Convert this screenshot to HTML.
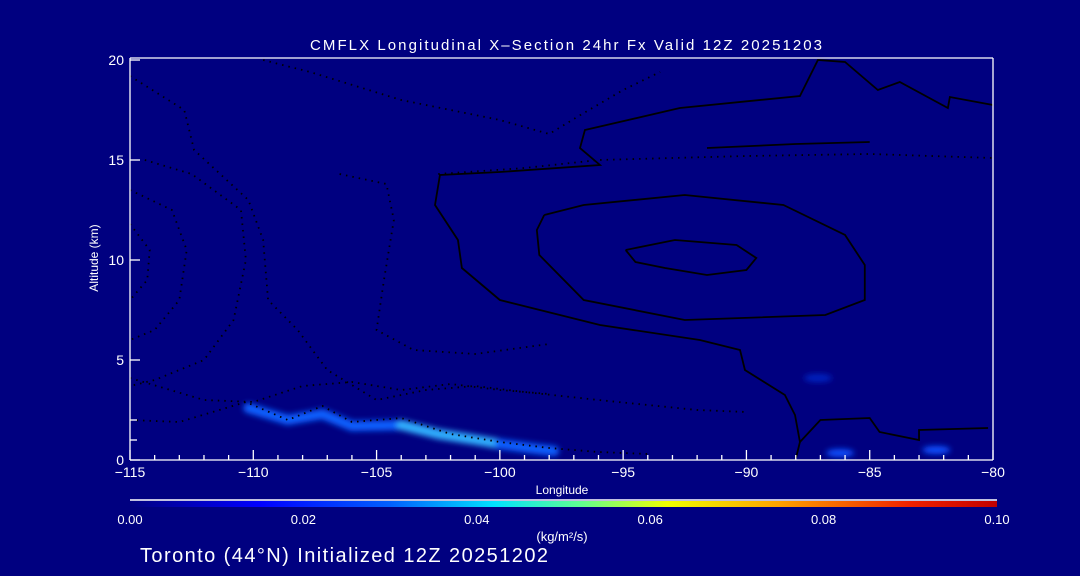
<!DOCTYPE html>
<html><head><meta charset="utf-8">
<style>
html,body{margin:0;padding:0;background:#000080;}
svg{display:block;font-family:"Liberation Sans",sans-serif;}
</style></head>
<body>
<svg id="chart" width="1080" height="576" viewBox="0 0 1080 576">
<defs>
<filter id="blur" x="-20%" y="-50%" width="140%" height="200%"><feGaussianBlur stdDeviation="2.8"/></filter>
<linearGradient id="cbar" x1="0" x2="1" y1="0" y2="0">
<stop offset="0" stop-color="#000080"/>
<stop offset="0.15" stop-color="#0000ff"/>
<stop offset="0.3" stop-color="#0060ff"/>
<stop offset="0.42" stop-color="#00e0ff"/>
<stop offset="0.52" stop-color="#60ff90"/>
<stop offset="0.62" stop-color="#f0ff00"/>
<stop offset="0.75" stop-color="#ffa000"/>
<stop offset="0.9" stop-color="#f02000"/>
<stop offset="1" stop-color="#c00000"/>
</linearGradient>
</defs>
<text x="310" y="50" fill="#fff" font-size="15" textLength="512" lengthAdjust="spacing">CMFLX Longitudinal X–Section 24hr  Fx Valid 12Z 20251203</text>
<g id="flux" filter="url(#blur)"></g>
<g id="contours"></g>
<g id="axes"></g>
<text x="98" y="258" fill="#fff" font-size="12" text-anchor="middle" transform="rotate(-90 98 258)">Altitude (km)</text>
<text x="562" y="494" fill="#fff" font-size="12" text-anchor="middle">Longitude</text>
<line x1="130" y1="500" x2="997" y2="500" stroke="#fff" stroke-width="1.5"/>
<rect x="130" y="501" width="867" height="6" fill="url(#cbar)"/>
<g id="cbticks"></g>
<text x="562" y="541" fill="#fff" font-size="13" text-anchor="middle">(kg/m²/s)</text>
<text x="140" y="562" fill="#fff" font-size="20" textLength="408" lengthAdjust="spacing">Toronto (44°N) Initialized 12Z 20251202</text>
</svg>
<script>
const xTicks=[-115,-110,-105,-100,-95,-90,-85,-80];
const yTicks=[0,5,10,15,20];
const cbTicks=[0.00,0.02,0.04,0.06,0.08,0.10];
const contourZero=[[-80,17.75],[-81.75,18.15],[-81.83,17.6],[-83.78,18.9],[-84.67,18.5],[-86,19.9],[-87.1,20],[-87.83,18.2],[-92.7,17.6],[-96.55,16.5],[-96.75,15.6],[-95.94,14.75],[-100,14.4],[-102.43,14.25],[-102.63,12.75],[-101.7,11],[-101.54,9.6],[-100,8],[-95.94,6.75],[-91.89,6],[-90.26,5.5],[-90.06,4.5],[-88.44,3.25],[-88.03,2.25],[-87.83,0.9],[-87.99,0.1]];
const contourTen=[[-98.2,12.25],[-96.6,12.75],[-92.5,13.25],[-88.5,12.75],[-86,11.25],[-85.2,9.75],[-85.2,8],[-86.8,7.25],[-92.5,7],[-96.6,8],[-98.4,10.25],[-98.5,11.5],[-98.2,12.25]];
const contourTwenty=[[-94.9,10.5],[-92.9,11],[-90.4,10.75],[-89.6,10.1],[-90,9.5],[-91.6,9.25],[-93.3,9.6],[-94.5,9.9],[-94.9,10.5]];
const contourLowRight=[[-87.83,0.9],[-87,2],[-85,2.1],[-84.6,1.4],[-83,1],[-83,1.5],[-80.2,1.6]];
const contourTopRight=[[-91.6,15.6],[-88,15.8],[-85,15.9]];
const dotTop=[[-109.6,20],[-107.7,19.4],[-104,18],[-100,17],[-98,16.3],[-96.8,17.2],[-95,18.5],[-93.5,19.4]];
const dotA=[[-115,19.2],[-112.8,17.5],[-112.4,15.5],[-110.2,13],[-109.6,11],[-109.4,8],[-108.2,6.5],[-107,4.5],[-105,3],[-103,3.5],[-101,3.7],[-99,3.4],[-96,3],[-92,2.5],[-90,2.4]];
const dotB=[[-114.4,15],[-112.5,14.3],[-110.5,12.5],[-110.3,10],[-110.8,7],[-112,5],[-114,4],[-115,3.7]];
const dotC=[[-115,13.5],[-113.3,12.5],[-112.7,10.5],[-113,8],[-114,6.5],[-115,6]];
const dotD=[[-115,11.8],[-114.2,10.5],[-114.3,9],[-115,8]];
const dotE=[[-106.5,14.3],[-104.6,13.8],[-104.3,12],[-104.7,9],[-105,6.5],[-103.5,5.5],[-101,5.3],[-98,5.8]];
const dotF=[[-102.5,14.3],[-99,14.6],[-96,15],[-90,15.2],[-85,15.3],[-80,15.1]];
const dotG=[[-115,4.1],[-112,3],[-110,2.9],[-108,3.7],[-106,3.9],[-104,3.5],[-102,3.8],[-100,3.5],[-98,3.3]];
const dotH=[[-115,2],[-113,1.9],[-110.3,2.9],[-108.6,2.0],[-107.2,2.7],[-106,1.9],[-104,2.1],[-102,1.3],[-100,0.9],[-98,0.6],[-96,0.4],[-94,0.3]];
const fluxLon=[-110.2,-108.6,-107.2,-106,-104,-102.5,-101.2,-100,-98.5,-97.8];
const fluxAlt=[2.6,2.0,2.3,1.7,1.75,1.3,1.05,0.8,0.55,0.45];
const fluxVal=[0.022,0.02,0.028,0.026,0.028,0.032,0.042,0.03,0.02,0.015];
const blobs=[[-86.2,0.35,0.02],[-82.3,0.5,0.02],[-87.1,4.1,0.012]];

const NS='http://www.w3.org/2000/svg';
const x=l=>130+(l+115)/35*863;
const y=a=>460-a*20;
function color(v){const t=v/0.1;if(t<0.15)return'#0018ff';if(t<0.3)return'#1060ff';if(t<0.42)return'#30b0ff';return'#70f0e0';}
function poly(g,pts,dash,name,w){const p=document.createElementNS(NS,'polyline');
p.setAttribute('points',pts.map(q=>x(q[0])+','+y(q[1])).join(' '));
p.setAttribute('fill','none');p.setAttribute('stroke','#000');p.setAttribute('stroke-width',w||1.8);
if(dash)p.setAttribute('stroke-dasharray','1.5 5');


g.appendChild(p);}
const fg=document.getElementById('flux');
for(let i=0;i<fluxLon.length-1;i++){const l=document.createElementNS(NS,'line');
l.setAttribute('x1',x(fluxLon[i]));l.setAttribute('y1',y(fluxAlt[i]));l.setAttribute('x2',x(fluxLon[i+1]));l.setAttribute('y2',y(fluxAlt[i+1]));
l.setAttribute('stroke',color((fluxVal[i]+fluxVal[i+1])/2));l.setAttribute('stroke-width',10);l.setAttribute('stroke-linecap','round');


fg.appendChild(l);}
blobs.forEach(b=>{const e=document.createElementNS(NS,'ellipse');
e.setAttribute('cx',x(b[0]));e.setAttribute('cy',y(b[1]));e.setAttribute('rx',14);e.setAttribute('ry',4);e.setAttribute('fill',b[2]<0.015?'#0020c0':'#1050ff');


fg.appendChild(e);});
const cg=document.getElementById('contours');
poly(cg,contourZero,false,'contour-0');poly(cg,contourTen,false,'contour-10');poly(cg,contourTwenty,false,'contour-20');
poly(cg,contourLowRight,false,'contour-low-right');poly(cg,contourTopRight,false,'contour-top-right');
[[dotTop,'contour-neg-top'],[dotA,'contour-neg-a'],[dotB,'contour-neg-b'],[dotC,'contour-neg-c'],[dotD,'contour-neg-d'],[dotE,'contour-neg-e'],[dotF,'contour-neg-f'],[dotG,'contour-neg-g'],[dotH,'contour-neg-h']].forEach(d=>poly(cg,d[0],true,d[1],1.8));
const ag=document.getElementById('axes');
function line(x1,y1,x2,y2,name){const l=document.createElementNS(NS,'line');l.setAttribute('x1',x1);l.setAttribute('y1',y1);l.setAttribute('x2',x2);l.setAttribute('y2',y2);l.setAttribute('stroke','#fff');l.setAttribute('stroke-width',1.3);


ag.appendChild(l);}
function text(g,tx,ty,s,anchor,size,name){const t=document.createElementNS(NS,'text');t.setAttribute('x',tx);t.setAttribute('y',ty);t.setAttribute('fill','#fff');t.setAttribute('font-size',size);t.setAttribute('text-anchor',anchor);t.textContent=s;


g.appendChild(t);}
line(130,58,993,58,'plot-top-border');line(993,58,993,460,'plot-right-border');line(130,460,993,460,'x-axis-line');line(130,58,130,460,'y-axis-line');
for(let l=-115;l<=-80;l++){const maj=xTicks.includes(l);line(x(l),460,x(l),460-(maj?10:5),'x-tick');}
xTicks.forEach(l=>text(ag,x(l),477,'\u2212'.repeat(l<0?1:0)+Math.abs(l),'middle',14,'x-tick-label'));
yTicks.forEach(a=>{line(130,y(a),140,y(a),'y-tick');text(ag,124,y(a)+5,String(a),'end',14,'y-tick-label');});
[1,2].forEach(a=>line(130,y(a),137,y(a),'y-minor-tick'));
const cb=document.getElementById('cbticks');
cbTicks.forEach(v=>text(cb,130+v/0.1*867,524,v.toFixed(2),'middle',13,'colorbar-tick-label'));
</script>
</body></html>
